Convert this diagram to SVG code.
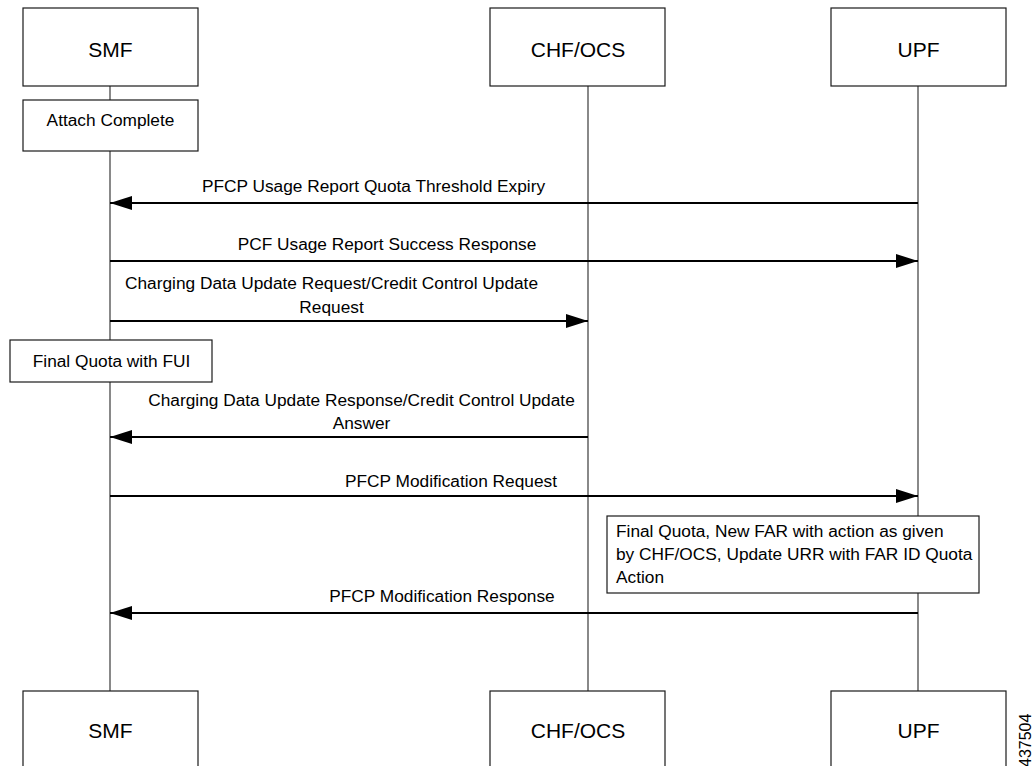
<svg xmlns="http://www.w3.org/2000/svg" width="1033" height="766" viewBox="0 0 1033 766">
<style>
.box{fill:#fff;stroke:#1a1a1a;stroke-width:1.2}
.life{stroke:#3a3a3a;stroke-width:1.2;fill:none}
.msg{stroke:#000;stroke-width:2;fill:none}
.title{font-family:"Liberation Sans",Arial,sans-serif;font-size:21px;fill:#000;text-anchor:middle}
.lbl{font-family:"Liberation Sans",Arial,sans-serif;font-size:17.3px;fill:#000;text-anchor:middle}
.note{font-family:"Liberation Sans",Arial,sans-serif;font-size:17.3px;fill:#000}
.fig{font-family:"Liberation Sans",Arial,sans-serif;font-size:16px;fill:#000}
</style>
<defs>
<marker id="ah" markerUnits="userSpaceOnUse" markerWidth="22" markerHeight="14" refX="22" refY="7" orient="auto">
<path d="M0,0 L22,7 L0,14 z" fill="#000"/>
</marker>
</defs>
<rect width="1033" height="766" fill="#fff"/>
<g id="lifelines">
<line class="life" x1="110" y1="86" x2="110" y2="691"/>
<line class="life" x1="588" y1="86" x2="588" y2="691"/>
<line class="life" x1="918" y1="86" x2="918" y2="691"/>
</g>
<g id="smf-top"><rect class="box" x="23" y="8" width="175" height="78"/><text class="title" x="110.5" y="57">SMF</text></g>
<g id="chf-top"><rect class="box" x="490" y="8" width="175" height="78"/><text class="title" x="578" y="57">CHF/OCS</text></g>
<g id="upf-top"><rect class="box" x="831" y="8" width="175" height="78"/><text class="title" x="918.5" y="57">UPF</text></g>
<g id="smf-bottom"><rect class="box" x="23" y="691" width="175" height="78"/><text class="title" x="110.5" y="738">SMF</text></g>
<g id="chf-bottom"><rect class="box" x="490" y="691" width="175" height="78"/><text class="title" x="578" y="738">CHF/OCS</text></g>
<g id="upf-bottom"><rect class="box" x="831" y="691" width="175" height="78"/><text class="title" x="918.5" y="738">UPF</text></g>
<g id="attach-complete"><rect class="box" x="23" y="100" width="175" height="51"/><text class="lbl" x="110.5" y="126">Attach Complete</text></g>
<g id="final-quota-fui"><rect class="box" x="10" y="340" width="202" height="42"/><text class="lbl" x="111.5" y="367">Final Quota with FUI</text></g>
<g id="far-note"><rect class="box" x="607" y="516" width="372" height="77"/>
<text class="note" x="616" y="537">Final Quota, New FAR with action as given</text>
<text class="note" x="616" y="560">by CHF/OCS, Update URR with FAR ID Quota</text>
<text class="note" x="616" y="583">Action</text></g>
<g id="connectors">
<line class="msg" x1="918" y1="203" x2="110" y2="203" marker-end="url(#ah)"/>
<line class="msg" x1="110" y1="261" x2="918" y2="261" marker-end="url(#ah)"/>
<line class="msg" x1="110" y1="321" x2="588" y2="321" marker-end="url(#ah)"/>
<line class="msg" x1="588" y1="437" x2="110" y2="437" marker-end="url(#ah)"/>
<line class="msg" x1="110" y1="496" x2="918" y2="496" marker-end="url(#ah)"/>
<line class="msg" x1="918" y1="613" x2="110" y2="613" marker-end="url(#ah)"/>
<text class="lbl" x="373.5" y="192">PFCP Usage Report Quota Threshold Expiry</text>
<text class="lbl" x="387" y="250">PCF Usage Report Success Response</text>
<text class="lbl" x="331.5" y="289">Charging Data Update Request/Credit Control Update</text>
<text class="lbl" x="331.5" y="313">Request</text>
<text class="lbl" x="361.5" y="406">Charging Data Update Response/Credit Control Update</text>
<text class="lbl" x="361.5" y="429">Answer</text>
<text class="lbl" x="451" y="487">PFCP Modification Request</text>
<text class="lbl" x="442" y="602">PFCP Modification Response</text>
</g>
<text class="fig" transform="translate(1031,767) rotate(-90)">437504</text>
</svg>
